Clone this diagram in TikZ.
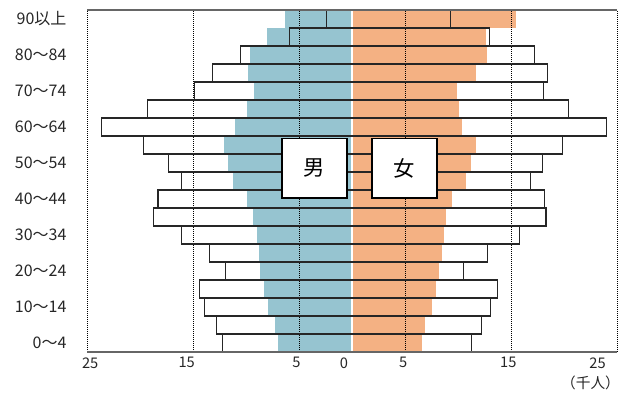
\documentclass[tikz,border=0pt]{standalone}
\usepackage{fontspec}
\setmainfont{Noto Sans CJK JP}
\definecolor{malefill}{RGB}{150,196,208}
\definecolor{femalefill}{RGB}{244,177,131}

\begin{document}
\begin{tikzpicture}[x=7.95pt, y=13.5pt,
    bar/.style={draw=black!85, line width=0.8pt},
    grid/.style={black, line width=0.75pt, dash pattern=on 0.75pt off 0.75pt},
    sexbox/.style={draw, line width=1.3pt, fill=white, minimum width=49pt,
      minimum height=44.5pt, inner sep=0pt, font=\fontsize{16}{16}\selectfont},
    agelabel/.style={anchor=east, text=black!85, font=\fontsize{12}{12}\selectfont},
    ticklabel/.style={text=black!85, font=\fontsize{11}{11}\selectfont}]
    \useasboundingbox (-33.208,-2.222) rectangle (25.943,19.556);
    % current population
    \foreach \v [count=\i from 0] in {7.0,7.3,7.9,8.3,8.7,8.8,9.0,9.3,9.9,11.2,
        11.7,12.1,11.0,9.9,9.2,9.8,9.6,8.0,6.3}
      \fill[malefill] (-0.05,\i) rectangle (-\v,\i+1);
    \foreach \v [count=\i from 0] in {6.6,6.9,7.5,7.9,8.2,8.5,8.7,8.9,9.4,10.8,
        11.2,11.7,10.4,10.1,9.9,11.7,12.7,12.6,15.5}
      \fill[femalefill] (0.05,\i) rectangle (\v,\i+1);
    \foreach \g in {-25,-15,-5,5,15,25}
      \draw[grid] (\g,0) -- (\g,19);
    % outline bars
    \foreach \v [count=\i from 0] in {12.2,12.8,13.9,14.4,11.9,13.4,16.1,18.7,18.3,16.1,
        17.3,19.7,23.6,19.3,14.9,13.2,10.5,5.9,2.4}
      \draw[bar] (0,\i) -| (-\v,\i+1) -- (0,\i+1);
    \foreach \v [count=\i from 0] in {11.3,12.2,13.1,13.7,10.5,12.8,15.8,18.3,18.2,16.8,
        18.0,19.9,24.0,20.4,18.1,18.4,17.2,13.0,9.3}
      \draw[bar] (0,\i) -| (\v,\i+1) -- (0,\i+1);
    \draw[black!60, line width=0.8pt] (-25,19) -- (25,19);
    \draw[black!60, line width=0.8pt] (-25,0) -- (25,0);
    \node[sexbox] (male) at (-3.54,10.22) {男};
    \node[sexbox] (female) at (4.95,10.22) {女};
    \foreach \t [count=\i from 0] in {0～4,10～14,20～24,30～34,40～44,50～54,
        60～64,70～74,80～84,90以上}
      \node[agelabel] (age\i) at (-26.5,2*\i+0.5) {\t};
    \foreach \x/\t [count=\i] in {-24.7/25,-15.6/15,-5.25/5,-0.75/0,4.84/5,14.75/15,23.16/25}
      \node[ticklabel] (tick\i) at (\x,-0.6) {\t};
    \node[ticklabel] (unit) at (22.5,-1.72) {（千人）};
\end{tikzpicture}
\end{document}
